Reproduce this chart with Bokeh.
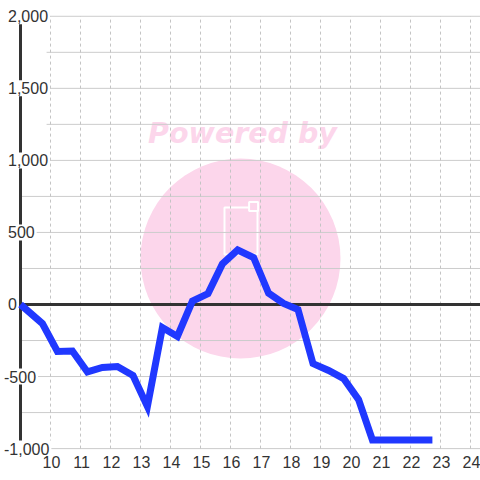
from bokeh.plotting import figure
from bokeh.models import Range1d, ColumnDataSource
from bokeh.core.properties import value
from bokeh.embed import file_html
from bokeh.resources import INLINE

# ---- data ----
x_vals = [9.0, 9.73, 10.23, 10.73, 11.23, 11.73, 12.23, 12.75, 13.23, 13.73,
          14.23, 14.73, 15.25, 15.73, 16.24, 16.77, 17.27, 17.77, 18.25, 18.75,
          19.27, 19.77, 20.27, 20.73, 21.23, 21.73, 22.23, 22.73]
y_vals = [0, -132, -326, -323, -468, -437, -430, -493, -708, -160,
          -222, 24, 76, 281, 378, 326, 78, 7, -35, -410,
          -458, -514, -660, -940, -940, -940, -940, -940]

x_ticks = [10, 11, 12, 13, 14, 15, 16, 17, 18, 19, 20, 21, 22, 23, 24]
x_tick_labels = ["10", "11", "12", "13", "14", "15", "16", "17", "18", "19",
                 "20", "21", "22", "23", "24"]
y_ticks = [-1000, -500, 0, 500, 1000, 1500, 2000]
y_tick_labels = ["-1,000", "-500", "0", "500", "1,000", "1,500", "2,000"]
grid_y = [-1000, -750, -500, -250, 0, 250, 500, 750, 1000, 1250, 1500, 1750, 2000]
axis_x = 9.0

# ---- layout ----
W = 480
S = W / 480.0
X0, X1 = 8.3333, 24.3333
Y0, Y1 = -1221.4, 2109.6
PINK = "#fcd6eb"
INK = "#333333"
FONT = value("Liberation Sans")

p = figure(width=W, height=W, x_range=Range1d(X0, X1), y_range=Range1d(Y0, Y1),
           output_backend="svg", toolbar_location=None,
           x_axis_location=None, y_axis_location=None,
           min_border=0, outline_line_color=None,
           background_fill_color="white", border_fill_color="white")
p.xgrid.visible = False
p.ygrid.visible = False

# watermark
p.scatter(x=[16.333], y=[319], size=200 * S, marker="circle",
          fill_color=PINK, line_color=None)
p.text(x=[16.4], y=[1185], text=["Powered by"], text_font=value("DejaVu Sans"),
       text_font_style="bold italic", text_font_size=f"{28.5 * S:.1f}px",
       text_color=PINK, text_align="center", text_baseline="middle")
p.rect(x=[16.35], y=[510], width=33 * S, height=47 * S, width_units="screen",
       height_units="screen", fill_color=None, line_color="white", line_width=2)
p.rect(x=[16.77], y=[680], width=9 * S, height=9 * S, width_units="screen",
       height_units="screen", fill_color=PINK, line_color="white", line_width=2)

# grid lines
grid_start = [9.87 if v >= 1000 else axis_x for v in grid_y]
p.segment(x0=grid_start, y0=grid_y, x1=[X1 + 1] * len(grid_y), y1=grid_y,
          line_color="#cccccc", line_width=1)
p.segment(x0=x_ticks, y0=[-1000] * len(x_ticks), x1=x_ticks, y1=[2000] * len(x_ticks),
          line_color="#c4c4c4", line_width=1, line_dash="3 3")

# zero line and y axis line
p.segment(x0=[axis_x], y0=[0], x1=[X1 + 1], y1=[0], line_color=INK, line_width=3)
p.segment(x0=[axis_x], y0=[-1000], x1=[axis_x], y1=[2000], line_color=INK, line_width=3)

# y tick labels
ysrc = ColumnDataSource(dict(
    x=[X0] * len(y_ticks), y=y_ticks, text=y_tick_labels,
    xo=[(1.5 if t.startswith("-") else 5.5) * S for t in y_tick_labels]))
p.text(x="x", y="y", text="text", x_offset="xo", source=ysrc,
       text_font=FONT, text_font_size=f"{16 * S:.1f}px", text_color=INK,
       text_align="left", text_baseline="middle",
       background_fill_color="white", padding=2)

# x tick labels
p.text(x=x_ticks, y=[-1000] * len(x_ticks), text=x_tick_labels,
       x_offset=1 * S, y_offset=13 * S,
       text_font=FONT, text_font_size=f"{16 * S:.1f}px", text_color=INK,
       text_align="center", text_baseline="middle")

# series
p.line(x_vals, y_vals, line_color="#2038ff", line_width=7 * S, line_join="miter")

open("out.html", "w").write(file_html(p, INLINE))
